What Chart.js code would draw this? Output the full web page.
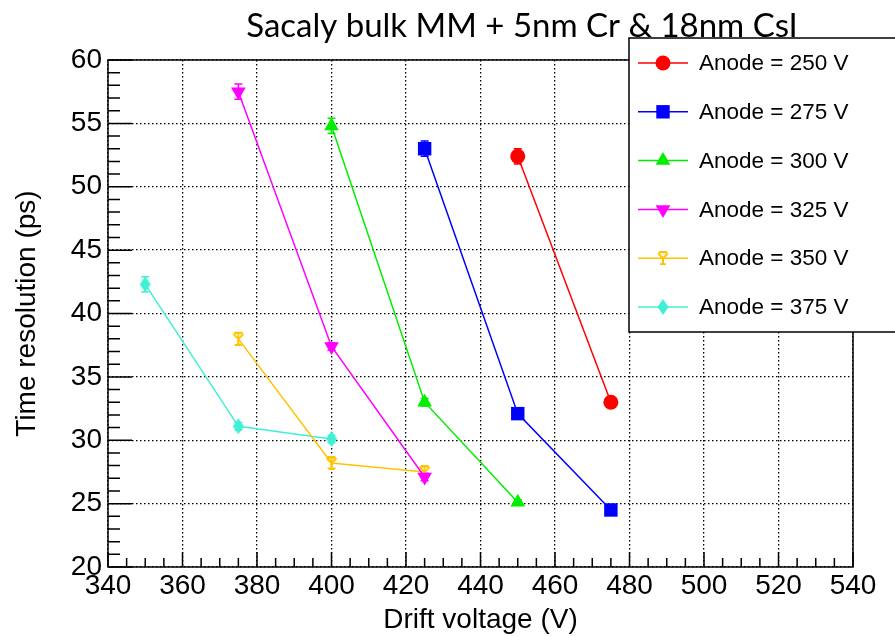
<!DOCTYPE html>
<html>
<head>
<meta charset="utf-8">
<script src="https://cdn.jsdelivr.net/npm/chart.js@4"></script>
<style>
  html, body { margin: 0; padding: 0; background: #fff; }
  #wrap { width: 895px; height: 637px; }
</style>
</head>
<body>
<div id="wrap"><canvas id="grafico" width="895" height="637"></canvas></div>
<script>
// Dados
const serieNomes = ['Anode = 250 V', 'Anode = 275 V', 'Anode = 300 V', 'Anode = 325 V', 'Anode = 350 V', 'Anode = 375 V'];
const cores = ['#ff0000', '#0000ff', '#00ee00', '#ff00ff', '#ffc400', '#40f0d4'];

const x250 = [450, 475];
const y250 = [52.4, 33.0];
const e250 = [0.6, 0.2];

const x275 = [425, 450, 475];
const y275 = [53.0, 32.1, 24.5];
const e275 = [0.6, 0.3, 0.2];

const x300 = [400, 425, 450];
const y300 = [54.8, 33.0, 25.1];
const e300 = [0.6, 0.3, 0.2];

const x325 = [375, 400, 425];
const y325 = [57.5, 37.4, 27.1];
const e325 = [0.6, 0.3, 0.3];

const x350 = [375, 400, 425];
const y350 = [38.0, 28.2, 27.5];
const e350 = [0.5, 0.4, 0.4];

const x375 = [350, 375, 400];
const y375 = [42.3, 31.1, 30.1];
const e375 = [0.6, 0.3, 0.3];

const xTicks = [340, 360, 380, 400, 420, 440, 460, 480, 500, 520, 540];
const yTicks = [20, 25, 30, 35, 40, 45, 50, 55, 60];

// marcadores especiais (Y e losango)
function marcadorY(cor) {
  const c = document.createElement('canvas');
  c.width = 12; c.height = 14;
  const g = c.getContext('2d');
  g.strokeStyle = cor; g.lineWidth = 2;
  g.beginPath();
  g.moveTo(1, 2); g.lineTo(6, 7); g.lineTo(11, 2);
  g.moveTo(6, 7); g.lineTo(6, 13);
  g.moveTo(2, 1); g.lineTo(10, 1);
  g.moveTo(3, 13); g.lineTo(9, 13);
  g.stroke();
  return c;
}
function marcadorLosango(cor) {
  const c = document.createElement('canvas');
  c.width = 12; c.height = 16;
  const g = c.getContext('2d');
  g.fillStyle = cor;
  g.beginPath();
  g.moveTo(6, 0); g.lineTo(11.5, 8); g.lineTo(6, 16); g.lineTo(0.5, 8);
  g.closePath(); g.fill();
  return c;
}

const xs = [x250, x275, x300, x325, x350, x375];
const ys = [y250, y275, y300, y325, y350, y375];
const erros = [e250, e275, e300, e325, e350, e375];
const estilos = [
  { pointStyle: 'circle', radius: 7.5, rotation: 0 },
  { pointStyle: 'rect', radius: 9.5, rotation: 0 },
  { pointStyle: 'triangle', radius: 8.5, rotation: 0 },
  { pointStyle: 'triangle', radius: 8.5, rotation: 180 },
  { pointStyle: marcadorY(cores[4]), radius: 6, rotation: 0 },
  { pointStyle: marcadorLosango(cores[5]), radius: 6, rotation: 0 }
];

const datasets = serieNomes.map((nome, i) => ({
  label: nome,
  data: xs[i].map((x, j) => ({ x: x, y: ys[i][j] })),
  erros: erros[i],
  borderColor: cores[i],
  backgroundColor: cores[i],
  borderWidth: 1.5,
  showLine: true,
  tension: 0,
  pointStyle: estilos[i].pointStyle,
  pointRadius: estilos[i].radius,
  pointRotation: estilos[i].rotation,
  pointBorderWidth: 0
}));

// barras de erro
const barrasErro = {
  id: 'barrasErro',
  beforeDatasetsDraw(chart) {
    const { ctx, scales: { x, y } } = chart;
    ctx.save();
    chart.data.datasets.forEach(ds => {
      ctx.strokeStyle = ds.borderColor;
      ctx.lineWidth = 1.5;
      ds.data.forEach((p, j) => {
        const e = ds.erros[j];
        const px = x.getPixelForValue(p.x);
        const yt = y.getPixelForValue(p.y + e);
        const yb = y.getPixelForValue(p.y - e);
        ctx.beginPath();
        ctx.moveTo(px, yt); ctx.lineTo(px, yb);
        ctx.moveTo(px - 4, yt); ctx.lineTo(px + 4, yt);
        ctx.moveTo(px - 4, yb); ctx.lineTo(px + 4, yb);
        ctx.stroke();
      });
    });
    ctx.restore();
  }
};

// moldura, marcas de escala, título e legenda
const moldura = {
  id: 'moldura',
  afterDraw(chart) {
    const { ctx, chartArea: a, scales: { x, y } } = chart;
    ctx.save();
    ctx.strokeStyle = '#000';
    ctx.lineWidth = 1.5;
    ctx.strokeRect(a.left, a.top, a.right - a.left, a.bottom - a.top);

    ctx.beginPath();
    for (let v = 340; v <= 540; v += 5) {
      const px = x.getPixelForValue(v);
      const len = v % 20 === 0 ? 15 : 9;
      ctx.moveTo(px, a.bottom); ctx.lineTo(px, a.bottom - len);
    }
    for (let v = 20; v <= 60; v += 1) {
      const py = y.getPixelForValue(v);
      const len = v % 5 === 0 ? 24 : 12;
      ctx.moveTo(a.left, py); ctx.lineTo(a.left + len, py);
    }
    ctx.stroke();

    // título
    ctx.fillStyle = '#000';
    ctx.font = '33px Lato';
    ctx.textAlign = 'center';
    ctx.textBaseline = 'middle';
    ctx.fillText('Sacaly bulk MM + 5nm Cr & 18nm CsI', 522, 26);

    // legenda
    const lx = 629, ly = 38, lw = 280, lh = 294;
    ctx.fillStyle = '#fff';
    ctx.fillRect(lx, ly, lw, lh);
    ctx.strokeStyle = '#000';
    ctx.lineWidth = 1.5;
    ctx.strokeRect(lx, ly, lw, lh);
    ctx.font = '22.5px "Liberation Sans"';
    ctx.textAlign = 'left';
    chart.data.datasets.forEach((ds, i) => {
      const cy = 63 + i * 48.8;
      ctx.strokeStyle = ds.borderColor;
      ctx.lineWidth = 1.5;
      ctx.beginPath();
      ctx.moveTo(638, cy); ctx.lineTo(688, cy);
      ctx.stroke();
      ctx.fillStyle = ds.backgroundColor;
      Chart.helpers.drawPoint(ctx, {
        pointStyle: ds.pointStyle,
        radius: ds.pointRadius,
        rotation: ds.pointRotation,
        borderWidth: 0
      }, 663, cy);
      ctx.fillStyle = '#000';
      ctx.fillText(ds.label, 699, cy + 1);
    });
    ctx.restore();
  }
};

const fonteEixo = { family: 'Liberation Sans', size: 28 };

new Chart(document.getElementById('grafico'), {
  type: 'scatter',
  data: { datasets: datasets },
  options: {
    responsive: false,
    animation: false,
    layout: { padding: { top: 60, right: 42, left: 0, bottom: 0 } },
    plugins: {
      legend: { display: false },
      tooltip: { enabled: false }
    },
    scales: {
      x: {
        type: 'linear',
        min: 340,
        max: 540,
        afterBuildTicks: (s) => { s.ticks = xTicks.map(v => ({ value: v })); },
        afterFit: (s) => { s.height = 70; },
        ticks: { color: '#000', font: fonteEixo, padding: 2, maxRotation: 0 },
        grid: { color: '#000', lineWidth: 1.3, drawTicks: false },
        border: { display: false, dash: [1.5, 2.5] },
        title: {
          display: true,
          text: 'Drift voltage (V)',
          color: '#000',
          font: { family: 'Liberation Sans', size: 28 },
          padding: { top: 0, bottom: 0 }
        }
      },
      y: {
        min: 20,
        max: 60,
        afterBuildTicks: (s) => { s.ticks = yTicks.map(v => ({ value: v })); },
        afterFit: (s) => { s.width = 108; },
        ticks: { color: '#000', font: fonteEixo, padding: 6 },
        grid: { color: '#000', lineWidth: 1.3, drawTicks: false },
        border: { display: false, dash: [1.5, 2.5] },
        title: {
          display: true,
          text: 'Time resolution (ps)',
          color: '#000',
          font: { family: 'Liberation Sans', size: 28 },
          padding: { top: 10, bottom: 0 }
        }
      }
    }
  },
  plugins: [barrasErro, moldura]
});
</script>
</body>
</html>
